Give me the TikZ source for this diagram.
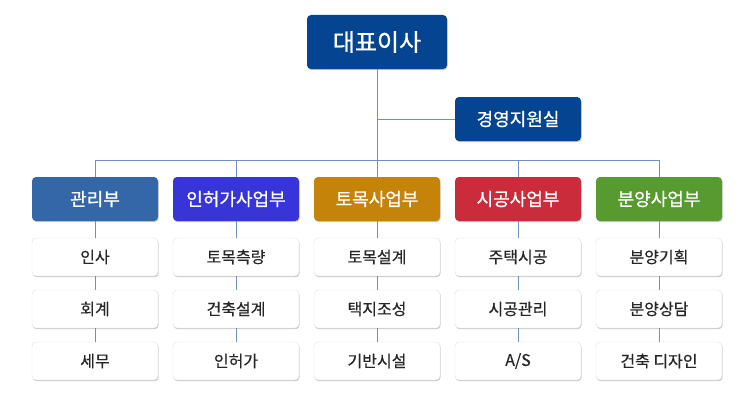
\documentclass[tikz,border=0pt]{standalone}
\usepackage{fontspec}
\setmainfont{Noto Sans CJK KR}
\newfontfamily\headkr[FakeBold=0.9]{Noto Sans CJK KR}
\newfontfamily\teamkr[FakeBold=0.4]{Noto Sans CJK KR}
\usepackage{xcolor}
\usetikzlibrary{positioning, shadows}

\definecolor{ceoblue}{RGB}{4,68,145}
\definecolor{mgmtblue}{RGB}{52,103,168}
\definecolor{permitblue}{RGB}{56,53,216}
\definecolor{civilgold}{RGB}{197,131,10}
\definecolor{constred}{RGB}{203,44,59}
\definecolor{salesgreen}{RGB}{87,154,47}
\definecolor{linkblue}{RGB}{111,143,192}

\begin{document}
\begin{tikzpicture}[
        x=1pt, y=-1pt,
        % Define styles for consistency
        box/.style={rounded corners=4pt, inner sep=0pt, minimum width=126pt, minimum height=44pt,
            text=white, drop shadow={shadow xshift=0.6pt, shadow yshift=-1.2pt, opacity=0.3, fill=black!70}},
        topbox/.style={box, fill=ceoblue, minimum width=140pt, minimum height=54pt, font=\headkr\fontsize{24}{28}\selectfont},
        dept/.style={box, font=\headkr\fontsize{18}{22}\selectfont},
        sub/.style={box, fill=white, draw=black!12, text=black!85, minimum height=38pt, font=\teamkr\fontsize{16}{20}\selectfont},
        connector/.style={draw=linkblue, line width=0.8pt}
    ]

        \useasboundingbox (0,0) rectangle (749,404);

        % --- Top ---
        \node[topbox] (ceo) at (377,42) {대표이사};
        \node[dept, fill=ceoblue] (support) at (518,119) {경영지원실};
        \coordinate (bus) at (377,160);

        % --- Departments ---
        \node[dept, fill=mgmtblue] (mgmt) at (95,199) {관리부};
        \node[dept, fill=permitblue] (permit) at (236,199) {인허가사업부};
        \node[dept, fill=civilgold] (civil) at (377,199) {토목사업부};
        \node[dept, fill=constred] (const) at (518,199) {시공사업부};
        \node[dept, fill=salesgreen] (sales) at (659,199) {분양사업부};

        % --- Teams ---
        \node[sub] (mgmt1) at (95,257) {인사};
        \node[sub] (mgmt2) at (95,309) {회계};
        \node[sub] (mgmt3) at (95,361) {세무};

        \node[sub] (permit1) at (236,257) {토목측량};
        \node[sub] (permit2) at (236,309) {건축설계};
        \node[sub] (permit3) at (236,361) {인허가};

        \node[sub] (civil1) at (377,257) {토목설계};
        \node[sub] (civil2) at (377,309) {택지조성};
        \node[sub] (civil3) at (377,361) {기반시설};

        \node[sub] (const1) at (518,257) {주택시공};
        \node[sub] (const2) at (518,309) {시공관리};
        \node[sub] (const3) at (518,361) {A/S};

        \node[sub] (sales1) at (659,257) {분양기획};
        \node[sub] (sales2) at (659,309) {분양상담};
        \node[sub] (sales3) at (659,361) {건축 디자인};

        % --- Connectors ---
        \draw[connector] (ceo) -- (civil);
        \draw[connector] (ceo |- support) -- (support);
        \draw[connector] (mgmt |- bus) -- (sales |- bus);
        \draw[connector] (mgmt |- bus) -- (mgmt);
        \draw[connector] (permit |- bus) -- (permit);
        \draw[connector] (const |- bus) -- (const);
        \draw[connector] (sales |- bus) -- (sales);

        % Department to teams
        \draw[connector] (mgmt) -- (mgmt1) -- (mgmt2) -- (mgmt3);
        \draw[connector] (permit) -- (permit1) -- (permit2) -- (permit3);
        \draw[connector] (civil) -- (civil1) -- (civil2) -- (civil3);
        \draw[connector] (const) -- (const1) -- (const2) -- (const3);
        \draw[connector] (sales) -- (sales1) -- (sales2) -- (sales3);

    \end{tikzpicture}
\end{document}
